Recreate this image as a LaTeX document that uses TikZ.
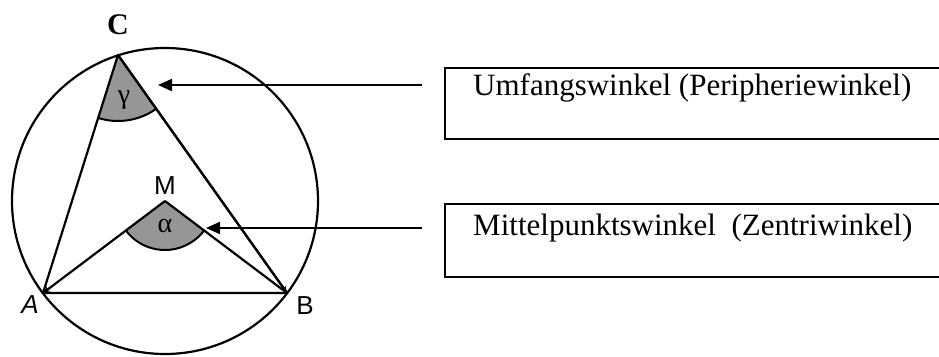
\documentclass[tikz,border=0pt]{standalone}
\usepackage{fontspec}
\setmainfont{Liberation Serif}
\newfontfamily\labfont{Liberation Sans}
\usetikzlibrary{arrows.meta,angles}
\definecolor{wedge}{RGB}{150,150,150}
\newcommand{\lblsize}{\fontsize{26}{30}\selectfont}
\tikzset{
  geo/.style={line width=2.2pt, line join=round},
  wedgefill/.style={draw, line width=2pt, fill=wedge},
  pointer/.style={line width=2pt, -{Triangle[length=14pt,width=12pt]}},
  infobox/.style={draw, line width=1.6pt, rectangle, anchor=north west, inner sep=0pt},
  boxtext/.style={font=\fontsize{31}{36}\selectfont, anchor=base west, inner sep=0pt},
  ptlabel/.style={inner sep=0pt},
  greek/.style={inner sep=0pt}
}
\begin{document}
\begin{tikzpicture}[x=1pt,y=-1pt]
\useasboundingbox (0,0) rectangle (939,356);
\coordinate (M) at (165,201);
\coordinate (A) at (43,293);
\coordinate (B) at (287,293);
\coordinate (C) at (118,55);
% wedges
\pic[wedgefill, angle radius=66pt] {angle = A--C--B};
\pic[wedgefill, angle radius=49pt] {angle = A--M--B};
% circle and triangles
\draw[geo] (M) circle (153pt);
\draw[geo] (A) -- (C) -- (B) -- cycle;
\draw[geo, -{Stealth[length=7pt,width=6pt]}] (M) -- (A);
\draw[geo] (M) -- (B);
\draw[geo, -{Stealth[length=7pt,width=6pt]}] (C) -- (B);
% labels
\node[inner sep=0pt] (lC) at (118,25) {\fontsize{30}{34}\selectfont\bfseries C};
\node[ptlabel] (lA) at (30,305) {\labfont\lblsize\itshape A};
\node[ptlabel] (lB) at (305,306) {\labfont\lblsize B};
\node[ptlabel] (lM) at (165,186) {\labfont\lblsize M};
\node[greek] (g) at (124,100) {\fontsize{28}{32}\selectfont γ};
\node[greek] (a) at (165,226) {\fontsize{28}{32}\selectfont α};
% boxes
\node[infobox, minimum width=510pt, minimum height=71pt] (box1) at (444,67) {};
\node[boxtext] (t1) at (473,95) {Umfangswinkel (Peripheriewinkel)};
\node[infobox, minimum width=510pt, minimum height=73pt] (box2) at (444,203) {};
\node[boxtext] (t2) at (473,235) {Mittelpunktswinkel\ \ (Zentriwinkel)};
% pointers
\coordinate (p1s) at (422,85);
\coordinate (p1e) at (158,85);
\coordinate (p2s) at (422,228);
\coordinate (p2e) at (206,228);
\draw[pointer] (p1s) -- (p1e);
\draw[pointer] (p2s) -- (p2e);
\end{tikzpicture}
\end{document}
